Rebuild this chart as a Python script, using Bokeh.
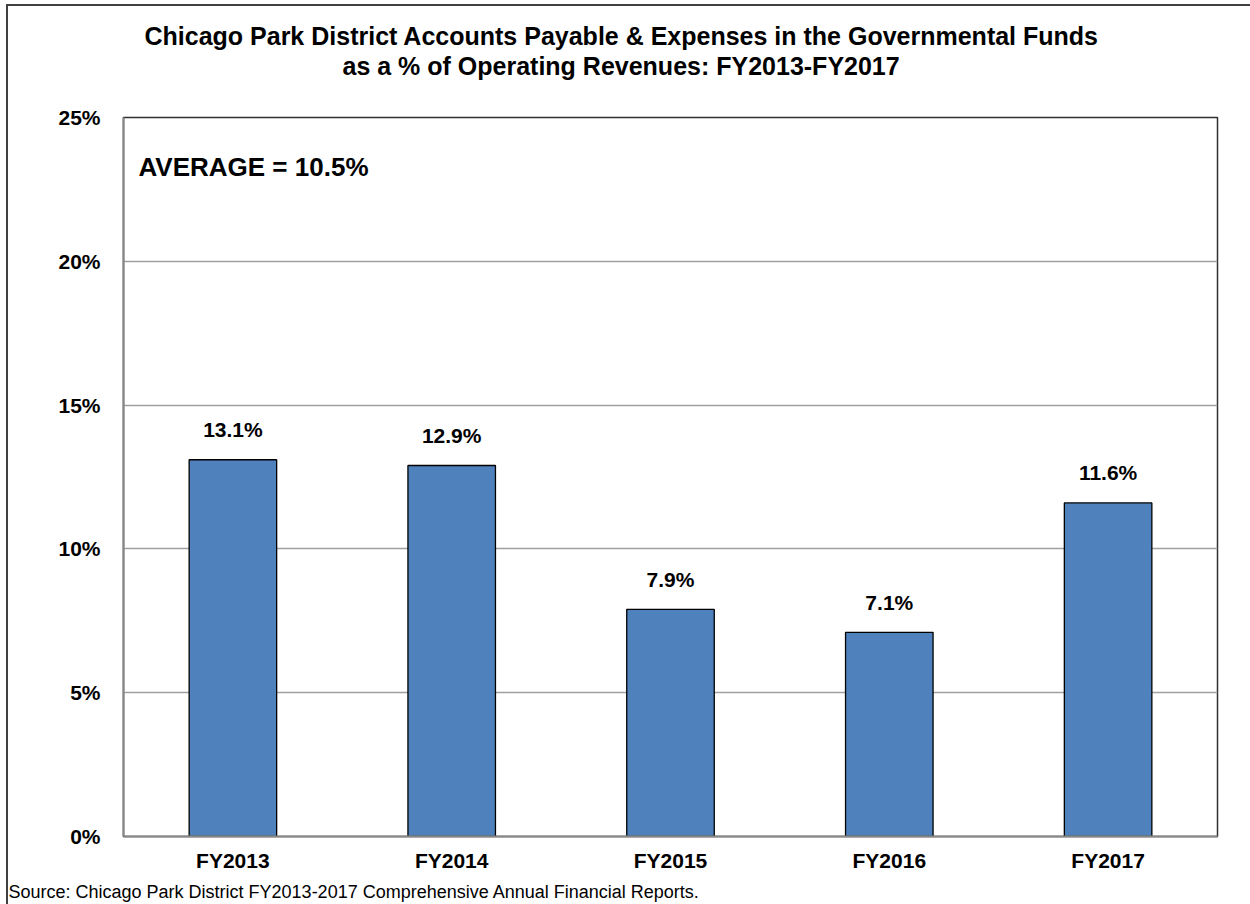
from bokeh.plotting import figure
from bokeh.models import ColumnDataSource, Label, FixedTicker, Range1d, FactorRange, Title
from bokeh.core.properties import value
from bokeh.embed import file_html
from bokeh.resources import INLINE

years = ["FY2013", "FY2014", "FY2015", "FY2016", "FY2017"]
pct = [13.1, 12.9, 7.9, 7.1, 11.6]
pct_labels = ["13.1%", "12.9%", "7.9%", "7.1%", "11.6%"]
y_ticks = [0, 5, 10, 15, 20, 25]
y_tick_labels = {0: "0%", 5: "5%", 10: "10%", 15: "15%", 20: "20%", 25: "25%"}
title_lines = ["Chicago Park District Accounts Payable & Expenses in the Governmental Funds",
               "as a % of Operating Revenues: FY2013-FY2017"]
average_text = "AVERAGE = 10.5%"
source_text = "Source: Chicago Park District FY2013-2017 Comprehensive Annual Financial Reports."

FONT = "Liberation Sans"

src = ColumnDataSource(data=dict(x=years, top=pct, lab=pct_labels))

p = figure(x_range=FactorRange(*years), y_range=Range1d(0, 25),
           frame_width=1094, frame_height=719,
           min_border_left=115, min_border_right=33, min_border_top=111, min_border_bottom=64,
           output_backend="svg", toolbar_location=None, tools="")
p.styles = {"border-left": "2px solid #404040", "border-top": "2px solid #404040",
            "margin-left": "6px", "margin-top": "4px"}

p.vbar(x="x", top="top", width=0.4, bottom=0, source=src,
       fill_color="#4F81BD", line_color="#000000", line_width=1.3)

p.text(x="x", y="top", text="lab", source=src, text_align="center", text_baseline="middle",
       y_offset=-30, text_font=value(FONT), text_font_style="bold",
       text_font_size="21px", text_color="#000000")

p.yaxis.ticker = FixedTicker(ticks=y_ticks)
p.yaxis.major_label_overrides = y_tick_labels
p.yaxis.major_label_text_font = FONT
p.yaxis.major_label_text_font_style = "bold"
p.yaxis.major_label_text_font_size = "21px"
p.yaxis.major_label_text_color = "#000000"
p.yaxis.major_label_standoff = 17
p.yaxis.major_tick_line_color = None
p.yaxis.minor_tick_line_color = None
p.yaxis.axis_line_color = "#888888"
p.yaxis.axis_line_width = 2

p.xaxis.major_label_text_font = FONT
p.xaxis.major_label_text_font_style = "bold"
p.xaxis.major_label_text_font_size = "21px"
p.xaxis.major_label_text_color = "#000000"
p.xaxis.major_label_standoff = 6
p.xaxis.major_tick_line_color = None
p.xaxis.axis_line_color = "#888888"
p.xaxis.axis_line_width = 2

p.xgrid.grid_line_color = None
p.ygrid.grid_line_color = "#A0A0A0"
p.ygrid.grid_line_width = 1.3
p.outline_line_color = "#303030"
p.outline_line_width = 1.5

# blank spacer (white on white) between plot area and the title lines
p.add_layout(Title(text=".", text_color="#FFFFFF", text_font_size="10px", standoff=28), "above")
p.add_layout(Title(text=title_lines[1], align="left", offset=219, text_font=FONT,
                   text_font_style="bold", text_font_size="25px", text_color="#000000",
                   standoff=0), "above")
p.add_layout(Title(text=title_lines[0], align="left", offset=21, text_font=FONT,
                   text_font_style="bold", text_font_size="25px", text_color="#000000",
                   standoff=0), "above")
p.add_layout(Title(text=source_text, align="left", offset=-115, text_font=FONT,
                   text_font_style="normal", text_font_size="18px", text_color="#000000",
                   standoff=10), "below")

p.add_layout(Label(x=15, y=670, x_units="screen", y_units="screen", text=average_text,
                   text_align="left", text_baseline="middle", text_font=FONT,
                   text_font_style="bold", text_font_size="26px", text_color="#000000"))

open("out.html", "w").write(file_html(p, INLINE))
